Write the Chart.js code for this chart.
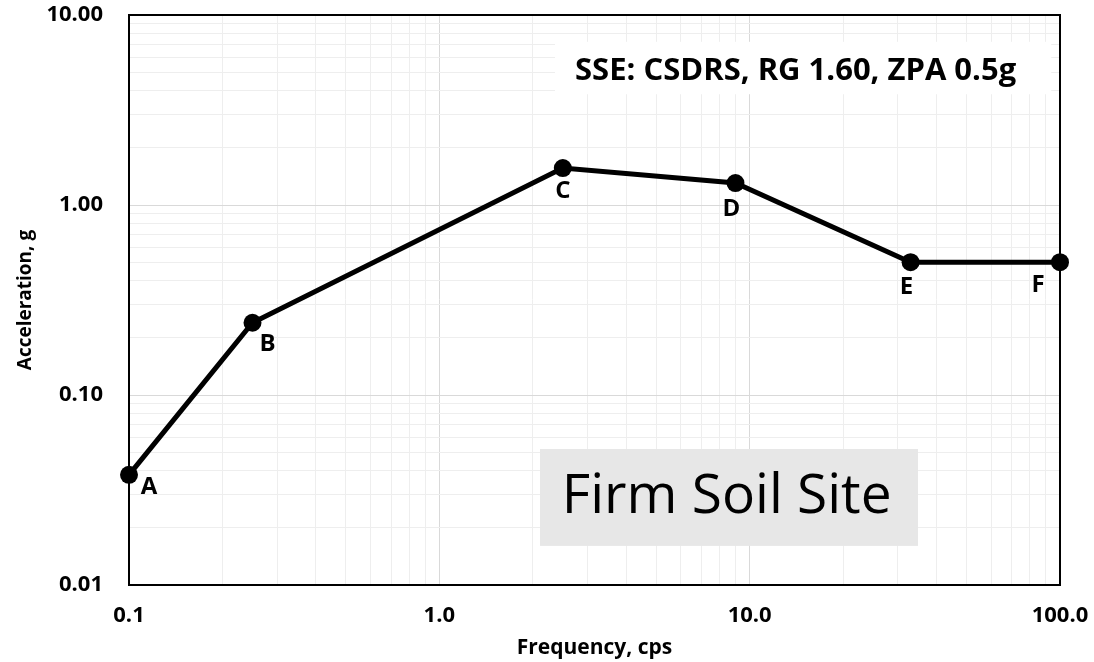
<!DOCTYPE html>
<html>
<head>
<meta charset="utf-8">
<script src="https://cdn.jsdelivr.net/npm/chart.js@4/dist/chart.umd.min.js"></script>
<style>
  html, body { margin: 0; padding: 0; background: #fff; }
</style>
</head>
<body>
<canvas id="spectrum" width="1094" height="662"></canvas>
<script>
// Corner points of the design spectrum (frequency in cps, acceleration in g)
const pointNames = ['A', 'B', 'C', 'D', 'E', 'F'];
const frequencies = [0.1, 0.25, 2.5, 9, 33, 100];
const accelerations = [0.038, 0.24, 1.565, 1.305, 0.5, 0.5];

// Decades on each axis and the labels shown for them
const xDecades = [0.1, 1, 10, 100];
const xTickLabels = ['0.1', '1.0', '10.0', '100.0'];
const yDecades = [0.01, 0.1, 1, 10];
const yTickLabels = ['0.01', '0.10', '1.00', '10.00'];

const spectrumTitle = 'SSE: CSDRS, RG 1.60, ZPA 0.5g';
const siteLabel = 'Firm Soil Site';

const FONT = "'Open Sans', 'Liberation Sans', sans-serif";

// gridlines at 1..9 x each decade
function gridValues(decades) {
    const vals = [];
    for (let i = 0; i < decades.length - 1; i++) {
        for (let m = 1; m <= 9; m++) vals.push(decades[i] * m);
    }
    vals.push(decades[decades.length - 1]);
    return vals;
}

function decadeIndex(decades, v) {
    return decades.findIndex(d => Math.abs(d - v) < d * 1e-6);
}

// extra drawing: frame, note boxes, point letters
const decorations = {
    id: 'decorations',
    beforeDatasetsDraw(chart) {
        const { ctx, chartArea: a } = chart;
        const w = a.right - a.left, h = a.bottom - a.top;
        ctx.save();

        // grey site box
        ctx.fillStyle = '#e7e7e7';
        ctx.fillRect(a.left + w * 0.4415, a.top + h * 0.7614, w * 0.406, h * 0.170);
        ctx.fillStyle = '#000';
        ctx.font = '55px ' + FONT;
        ctx.textAlign = 'center';
        ctx.textBaseline = 'middle';
        ctx.fillText(siteLabel, a.left + w * 0.642, a.top + h * 0.846);

        // white title box
        ctx.fillStyle = '#fff';
        ctx.fillRect(a.left + w * 0.4576, a.top + h * 0.047, w * 0.533, h * 0.092);
        ctx.fillStyle = '#000';
        ctx.font = 'bold 31px ' + FONT;
        ctx.fillText(spectrumTitle, a.left + w * 0.716, a.top + h * 0.098);

        // top and right frame
        ctx.strokeStyle = '#000';
        ctx.lineWidth = 2;
        ctx.beginPath();
        ctx.moveTo(a.left, a.top);
        ctx.lineTo(a.right, a.top);
        ctx.lineTo(a.right, a.bottom);
        ctx.stroke();
        ctx.restore();
    },
    afterDatasetsDraw(chart) {
        const { ctx, scales } = chart;
        const offsets = [[20, 12], [15, 21], [0, 23], [-4, 26], [-4, 25], [-22, 23]];
        ctx.save();
        ctx.fillStyle = '#000';
        ctx.font = 'bold 24px ' + FONT;
        ctx.textAlign = 'center';
        ctx.textBaseline = 'middle';
        pointNames.forEach((name, i) => {
            const px = scales.x.getPixelForValue(frequencies[i]);
            const py = scales.y.getPixelForValue(accelerations[i]);
            ctx.fillText(name, px + offsets[i][0], py + offsets[i][1]);
        });
        ctx.restore();
    }
};

const gridColor = decades => ctx => (ctx.tick && decadeIndex(decades, ctx.tick.value) >= 0) ? '#d9d9d9' : '#eeeeee';

const ctx = document.getElementById('spectrum').getContext('2d');
const spectrumChart = new Chart(ctx, {
    type: 'line',
    data: {
        datasets: [{
            data: frequencies.map((f, i) => ({ x: f, y: accelerations[i] })),
            borderColor: '#000',
            backgroundColor: '#000',
            borderWidth: 5,
            pointRadius: 9,
            pointBackgroundColor: '#000',
            pointBorderWidth: 0,
            tension: 0,
            clip: false
        }]
    },
    options: {
        responsive: false,
        animation: false,
        devicePixelRatio: 1,
        layout: { padding: { left: 0, right: 34, top: 15, bottom: 0 } },
        plugins: {
            legend: { display: false },
            tooltip: { enabled: false }
        },
        scales: {
            x: {
                type: 'logarithmic',
                position: 'bottom',
                min: 0.1,
                max: 100,
                afterBuildTicks: s => { s.ticks = gridValues(xDecades).map(v => ({ value: v })); },
                afterFit: s => { s.height = 77; s.paddingLeft = 0; s.paddingRight = 0; },
                ticks: {
                    autoSkip: false,
                    maxRotation: 0,
                    padding: 18,
                    color: '#000',
                    font: { family: FONT, size: 22, weight: 'bold' },
                    callback: v => { const i = decadeIndex(xDecades, v); return i >= 0 ? xTickLabels[i] : ''; }
                },
                grid: { drawTicks: false, color: gridColor(xDecades), lineWidth: 1 },
                border: { color: '#000', width: 2 },
                title: {
                    display: true,
                    text: 'Frequency, cps',
                    color: '#000',
                    font: { family: FONT, size: 21, weight: 'bold' },
                    padding: { top: 0, bottom: 1 }
                }
            },
            y: {
                type: 'logarithmic',
                min: 0.01,
                max: 10,
                afterBuildTicks: s => { s.ticks = gridValues(yDecades).map(v => ({ value: v })); },
                afterFit: s => { s.width = 129; s.paddingTop = 0; s.paddingBottom = 0; },
                ticks: {
                    autoSkip: false,
                    padding: 26,
                    color: '#000',
                    font: { family: FONT, size: 22, weight: 'bold' },
                    callback: v => { const i = decadeIndex(yDecades, v); return i >= 0 ? yTickLabels[i] : ''; }
                },
                grid: { drawTicks: false, color: gridColor(yDecades), lineWidth: 1 },
                border: { color: '#000', width: 2 },
                title: {
                    display: true,
                    text: 'Acceleration, g',
                    color: '#000',
                    font: { family: FONT, size: 19, weight: 'bold' },
                    padding: { top: 14, bottom: 0 }
                }
            }
        }
    },
    plugins: [decorations]
});
</script>
</body>
</html>
